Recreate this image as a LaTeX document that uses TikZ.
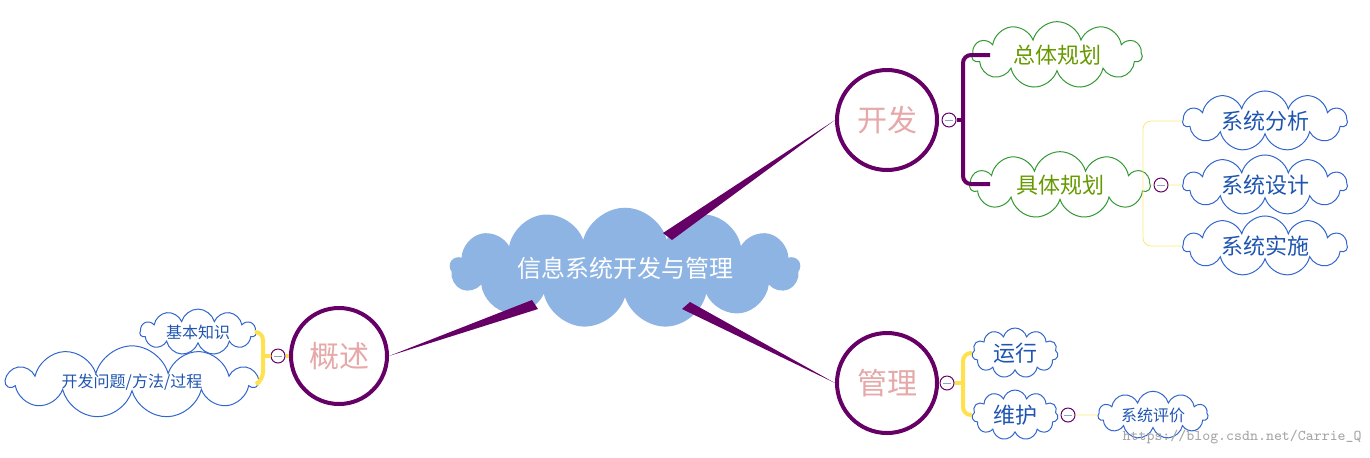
\documentclass[tikz,border=0pt]{standalone}
\usepackage{fontspec}
\newfontfamily\cjk{Noto Sans CJK SC}
\usetikzlibrary{shapes.symbols}
\definecolor{pur}{HTML}{660066}
\definecolor{yel}{HTML}{FFE14D}
\definecolor{pink}{HTML}{E6A8A8}
\definecolor{cblue}{HTML}{8EB4E3}
\definecolor{gborder}{HTML}{339933}
\definecolor{gtext}{HTML}{669900}
\definecolor{bborder}{HTML}{3366CC}
\definecolor{btext}{HTML}{1F55B0}
\tikzset{
 big/.style={circle,draw=pur,line width=2pt,inner sep=0pt,text=pink,font=\cjk\fontsize{15}{15}\selectfont},
 knob/.style={circle,draw=pur,line width=0.5pt,fill=white,minimum size=7pt,inner sep=0pt},
 gcloud/.style={cloud,cloud puffs=11,draw=gborder,line width=0.5pt,text=gtext,inner sep=0pt,font=\cjk\fontsize{11}{11}\selectfont},
 bcloud/.style={cloud,cloud puffs=11,draw=bborder,line width=0.5pt,text=btext,inner sep=0pt,font=\cjk\fontsize{11}{11}\selectfont},
 scloud/.style={bcloud,font=\cjk\fontsize{8}{8}\selectfont},
 thickp/.style={draw=pur,line width=2pt,rounded corners=4pt},
 thicky/.style={draw=yel,line width=2pt,rounded corners=4pt},
 thiny/.style={draw=yel!80,line width=0.4pt,rounded corners=4pt},
}
\begin{document}
\begin{tikzpicture}[x=0.5pt,y=-0.5pt]
\useasboundingbox (0,0) rectangle (1370,457);
% center
\node[cloud,cloud puffs=13,aspect=4.6,fill=cblue,inner sep=0pt,minimum width=175pt,minimum height=37pt,text=white,font=\cjk\fontsize{12}{12}\selectfont] (c) at (625,268) {信息系统开发与管理};
\node[big,minimum size=50pt] (kf) at (887,120) {开发};
\node[big,minimum size=50pt] (gl) at (887,383) {管理};
\node[big,minimum size=48pt] (gs) at (339,356) {概述};
% tapered connectors
\fill[pur] (663,233) -- (672,240) -- (kf.west) -- cycle;
\fill[pur] (682,309) -- (690,302) -- (gl.west) -- cycle;
\fill[pur] (532,300) -- (538,309) -- (gs.east) -- cycle;
% 开发 branch
\node[gcloud,aspect=3,minimum width=85pt,minimum height=28pt] (ztgh) at (1057,55) {总体规划};
\node[gcloud,aspect=3,minimum width=90pt,minimum height=30pt] (jtgh) at (1060,185) {具体规划};
\node[knob] (k1) at (949,120) {};
\draw[thickp] (k1.east) -- (963,120);
\draw[thickp] (990,55) -- (963,55) -- (963,184) -- (990,184);
\node[bcloud,aspect=3.6,minimum width=82pt,minimum height=23pt] (xtfx) at (1265,121) {系统分析};
\node[bcloud,aspect=3.6,minimum width=82pt,minimum height=23pt] (xtsj) at (1265,185) {系统设计};
\node[bcloud,aspect=3.6,minimum width=82pt,minimum height=23pt] (xtss) at (1265,246) {系统实施};
\node[knob] (k2) at (1161,185) {};
\draw[thiny] (jtgh.east) -- (k2.west);
\draw[thiny] (k2.east) -- (xtsj.west);
\draw[thiny] (xtfx.west) -- (1143,121) -- (1143,246) -- (xtss.west);
% 管理 branch
\node[bcloud,aspect=1.7,minimum width=43pt,minimum height=25pt] (yx) at (1015,353) {运行};
\node[bcloud,aspect=1.7,minimum width=43pt,minimum height=25pt] (wh) at (1015,415) {维护};
\node[knob] (k3) at (947,383) {};
\draw[thicky] (k3.east) -- (963,383);
\draw[thicky] (yx.west) -- (963,353) -- (963,415) -- (wh.west);
\node[knob] (k4) at (1068,415) {};
\node[scloud,aspect=3.1,minimum width=55pt,minimum height=18pt] (xtpj) at (1153,415) {系统评价};
\draw[thiny] (k4.east) -- (xtpj.west);
% 概述 branch
\node[scloud,aspect=3.3,minimum width=58pt,minimum height=18pt] (jbzs) at (198,332) {基本知识};
\node[scloud,aspect=6.5,minimum width=125pt,minimum height=19pt] (kfwt) at (132,382) {开发问题/方法/过程};
\node[knob] (k5) at (278,356) {};
\draw[thicky] (gs.west) -- (k5.east);
\draw[thicky] (k5.west) -- (263,356);
\draw[thicky] (jbzs.east) -- (263,332) -- (263,380) -- (kfwt.east);
% minus signs
\foreach \k in {k1,k2,k3,k4,k5} \draw[cblue!70!gray,line width=0.5pt] ([xshift=-2pt]\k.center) -- ([xshift=2pt]\k.center);
\node[text=gray!70,font=\ttfamily\fontsize{7.5}{7.5}\selectfont,anchor=east,inner sep=0pt] (wm) at (1362,437) {https://blog.csdn.net/Carrie\_Q};
\end{tikzpicture}
\end{document}
